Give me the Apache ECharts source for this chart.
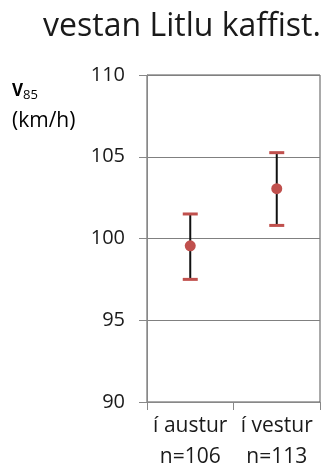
<!DOCTYPE html>
<html><head><meta charset="utf-8">
<script src="https://cdn.jsdelivr.net/npm/echarts@6/dist/echarts.min.js"></script>
<style>html,body{margin:0;padding:0;background:#fff}#c{width:322px;height:469px}</style>
</head><body><div id="c"></div>
<script>
const titleText = 'vestan Litlu kaffist.';
const categories = ['í austur', 'í vestur'];
const counts = ['n=106', 'n=113'];
const means = [99.55, 103.05];
const lows = [97.5, 100.8];
const highs = [101.5, 105.25];
const yTicks = [90, 95, 100, 105, 110];

const FONT = '"Open Sans", sans-serif';
const RED = '#c0504d';
const chart = echarts.init(document.getElementById('c'), null, {renderer: 'canvas'});
chart.setOption({
  animation: false,
  title: {text: titleText, left: 177, top: 6, textAlign: 'center',
    textStyle: {fontFamily: FONT, fontSize: 32, fontWeight: 'normal', color: '#1a1a1a'}},
  graphic: [{type: 'text', left: 12, top: 80, style: {
    text: '{b|V}{s|85}\n{u|(km/h)}', fontFamily: FONT, align: 'center',
    rich: {
      b: {fontFamily: FONT, fontSize: 17, fontWeight: 'bold', color: '#1a1a1a', lineHeight: 24},
      s: {fontFamily: FONT, fontSize: 13, color: '#1a1a1a', padding: [9, 0, 0, 0], lineHeight: 24},
      u: {fontFamily: FONT, fontSize: 21, color: '#1a1a1a', lineHeight: 37}
    }}}],
  grid: {left: 147, right: 2, top: 75, bottom: 67, show: true, borderColor: '#555', borderWidth: 1,
    containLabel: false, outerBoundsMode: 'none'},
  xAxis: {type: 'category', data: categories.map((c, i) => c + '\n' + counts[i]),
    axisLine: {lineStyle: {color: '#888', width: 1}},
    axisTick: {show: true, length: 8, lineStyle: {color: '#888'}},
    axisLabel: {fontFamily: FONT, fontSize: 21, color: '#1a1a1a', margin: 9, lineHeight: 31,
      interval: 0, hideOverlap: false}},
  yAxis: {type: 'value', min: 90, max: 110, interval: 5,
    axisLine: {show: true, lineStyle: {color: '#888'}},
    axisTick: {show: true, length: 8, lineStyle: {color: '#888'}},
    splitLine: {lineStyle: {color: '#808080', width: 1}},
    axisLabel: {fontFamily: FONT, fontSize: 20, color: '#1a1a1a', margin: 22,
      formatter: v => yTicks.includes(v) ? String(v) : ''}},
  series: [{
    type: 'custom', z: 3,
    data: categories.map((c, i) => [i, lows[i], highs[i]]),
    renderItem: function (params, api) {
      const x = api.value(0);
      const lo = api.coord([x, api.value(1)]);
      const hi = api.coord([x, api.value(2)]);
      const hw = 7.5;
      return {type: 'group', children: [
        {type: 'line', shape: {x1: lo[0], y1: lo[1], x2: hi[0], y2: hi[1]}, style: {stroke: '#111', lineWidth: 2}},
        {type: 'line', shape: {x1: lo[0] - hw, y1: lo[1], x2: lo[0] + hw, y2: lo[1]}, style: {stroke: RED, lineWidth: 3}},
        {type: 'line', shape: {x1: hi[0] - hw, y1: hi[1], x2: hi[0] + hw, y2: hi[1]}, style: {stroke: RED, lineWidth: 3}}
      ]};
    }
  }, {
    type: 'scatter', z: 4, symbolSize: 11, itemStyle: {color: RED, opacity: 1},
    data: categories.map((c, i) => [i, means[i]])
  }]
});
</script></body></html>
